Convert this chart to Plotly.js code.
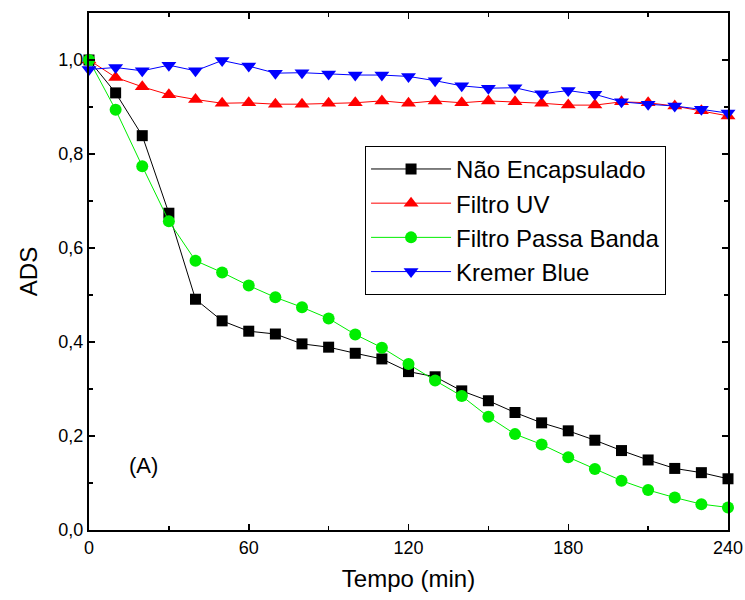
<!DOCTYPE html>
<html>
<head>
<meta charset="utf-8">
<script src="https://cdn.plot.ly/plotly-3.0.1.min.js"></script>
<style>html,body{margin:0;padding:0;background:#fff;}#chart{width:745px;height:600px;}</style>
</head>
<body>
<div id="chart"></div>
<script>
const tempo = [0,10,20,30,40,50,60,70,80,90,100,110,120,130,140,150,160,170,180,190,200,210,220,230,240];
const naoEncapsulado = [1.0,0.930,0.839,0.674,0.491,0.445,0.423,0.417,0.396,0.389,0.376,0.364,0.337,0.326,0.296,0.275,0.250,0.228,0.211,0.191,0.169,0.149,0.131,0.122,0.109];
const filtroUV = [1.0,0.963,0.943,0.926,0.916,0.908,0.909,0.906,0.906,0.908,0.909,0.913,0.908,0.913,0.909,0.913,0.911,0.908,0.904,0.904,0.911,0.909,0.902,0.892,0.881];
const filtroPassaBanda = [1.0,0.894,0.774,0.657,0.573,0.548,0.520,0.495,0.474,0.450,0.416,0.388,0.353,0.318,0.285,0.241,0.204,0.182,0.155,0.130,0.105,0.085,0.069,0.055,0.048];
const kremerBlue = [0.980,0.984,0.977,0.989,0.977,0.999,0.987,0.972,0.973,0.970,0.968,0.968,0.965,0.956,0.945,0.940,0.941,0.928,0.935,0.927,0.911,0.906,0.902,0.895,0.887];
const seriesNames = ['Não Encapsulado','Filtro UV','Filtro Passa Banda','Kremer Blue'];
const xTickVals = [0,60,120,180,240];
const yTickVals = [0,0.2,0.4,0.6,0.8,1.0];

const FONT = 'Liberation Sans';

const mk = (y, name, color, symbol, size) => ({
  x: tempo, y: y, name: name, type: 'scatter', mode: 'lines+markers',
  line: {color: color, width: 1},
  marker: {color: color, symbol: symbol, size: size, line: {width: 0}},
  cliponaxis: false
});

const data = [
  mk(naoEncapsulado, seriesNames[0], '#000000', 'square', 11),
  mk(filtroUV, seriesNames[1], '#ff0000', 'triangle-up', 13),
  mk(filtroPassaBanda, seriesNames[2], '#00ee00', 'circle', 12),
  mk(kremerBlue, seriesNames[3], '#0000ff', 'triangle-down', 13)
];

const axisCommon = {
  showline: true, linecolor: '#000', linewidth: 2, mirror: 'allticks',
  ticks: 'inside', ticklen: 6, tickwidth: 1.5, tickcolor: '#000',
  showgrid: false, zeroline: false,
  tickfont: {family: FONT, size: 18, color: '#000'}
};

const layout = {
  width: 745, height: 600,
  margin: {l: 89, r: 17, t: 13, b: 70},
  paper_bgcolor: '#fff', plot_bgcolor: '#fff',
  separators: ',.',
  showlegend: true,
  xaxis: Object.assign({}, axisCommon, {
    range: [0, 240], tickvals: xTickVals, ticktext: xTickVals.map(String),
    minor: {dtick: 30, tick0: 0, ticks: 'inside', ticklen: 4, tickwidth: 1.5, tickcolor: '#000'},
    title: {text: 'Tempo (min)', font: {family: FONT, size: 24, color: '#000'}, standoff: 14}
  }),
  yaxis: Object.assign({}, axisCommon, {
    range: [0, 1.1], tickvals: yTickVals, tickformat: '.1f',
    minor: {dtick: 0.1, tick0: 0, ticks: 'inside', ticklen: 4, tickwidth: 1.5, tickcolor: '#000'},
    title: {text: 'ADS', font: {family: FONT, size: 24, color: '#000'}, standoff: 14}
  }),
  legend: {
    x: 0.432, y: 0.743, xanchor: 'left', yanchor: 'top',
    bgcolor: '#fff', bordercolor: '#000', borderwidth: 1,
    font: {family: FONT, size: 24, color: '#000'},
    tracegroupgap: 0, itemwidth: 80
  },
  annotations: [{
    x: 20.3, y: 0.138, xref: 'x', yref: 'y', text: '(A)', showarrow: false,
    font: {family: FONT, size: 22, color: '#000'}
  }]
};

Plotly.newPlot('chart', data, layout, {displayModeBar: false, staticPlot: true});
</script>
</body>
</html>
